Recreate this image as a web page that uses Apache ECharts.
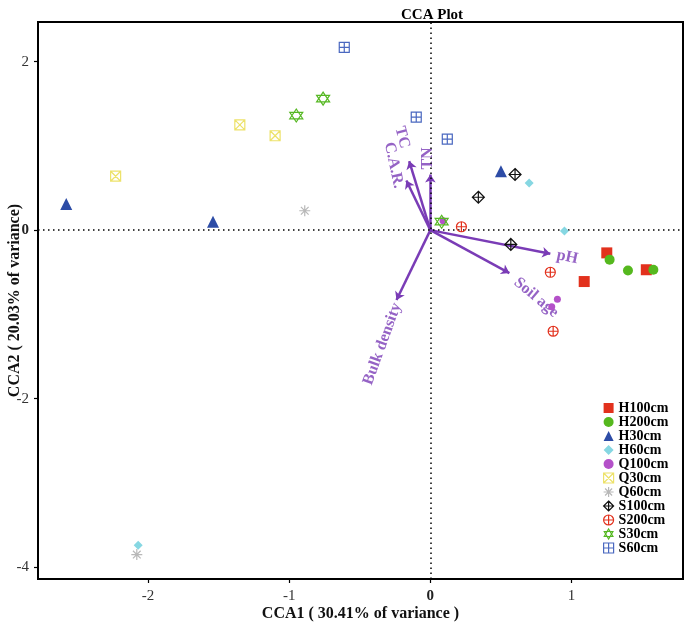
<!DOCTYPE html>
<html>
<head>
<meta charset="utf-8" />
<style>
  html, body { margin: 0; padding: 0; background: #fff; }
  #main { width: 685px; height: 630px; }
</style>
</head>
<body>
<div id="main"></div>
<script src="https://cdn.jsdelivr.net/npm/echarts@6/dist/echarts.min.js"></script>
<script>
// sample scores (CCA1, CCA2)
var H100cm = [[1.25, -0.27], [1.09, -0.61], [1.53, -0.47]];
var H200cm = [[1.27, -0.35], [1.40, -0.48], [1.58, -0.47]];
var H30cm  = [[0.50, 0.70], [-2.58, 0.31], [-1.54, 0.10]];
var H60cm  = [[0.70, 0.56], [0.95, -0.01], [-2.07, -3.74]];
var Q100cm = [[0.90, -0.82], [0.86, -0.91], [0.09, 0.11]];
var Q30cm  = [[-1.35, 1.25], [-1.10, 1.12], [-2.23, 0.64]];
var Q60cm  = [[-0.89, 0.23], [-2.08, -3.85]];
var S100cm = [[0.60, 0.66], [0.34, 0.39], [0.57, -0.17]];
var S200cm = [[0.22, 0.04], [0.85, -0.50], [0.87, -1.20]];
var S30cm  = [[-0.95, 1.36], [-0.76, 1.56], [0.08, 0.10]];
var S60cm  = [[-0.61, 2.17], [-0.10, 1.34], [0.12, 1.08]];

// environmental arrows
var envNames = ['TC', 'C.A.R.', 'TN', 'pH', 'Soil age', 'Bulk density'];
var envX = [-0.15, -0.17, 0.0, 0.85, 0.56, -0.24];
var envY = [0.82, 0.59, 0.66, -0.28, -0.51, -0.83];
var lblX = [-0.20, -0.26, -0.02, 0.97, 0.75, -0.34];
var lblY = [1.10, 0.77, 0.85, -0.32, -0.80, -1.35];
var lblRot = [-75, -78, 90, -12, -40, 70];

var xTicks = [-2, -1, 0, 1];
var yTicks = [-4, -2, 0, 2];

var serif = 'Liberation Serif';
var purple = '#7a3cb6';

var P_SQX = 'path://M0,0L10,0L10,10L0,10Z M0,0L10,10 M10,0L0,10';
var P_SQP = 'path://M0,0L10,0L10,10L0,10Z M5,0L5,10 M0,5L10,5';
var P_DIP = 'path://M5,0L10,5L5,10L0,5Z M5,0L5,10 M0,5L10,5';
var P_CIP = 'path://M10,5A5,5,0,1,1,0,5A5,5,0,1,1,10,5Z M5,0L5,10 M0,5L10,5';
var P_STAR = 'path://M5,0L10,8.66L0,8.66Z M5,11.55L0,2.89L10,2.89Z';
var P_AST = 'path://M5,0L5,10 M0,5L10,5 M1.5,1.5L8.5,8.5 M8.5,1.5L1.5,8.5';

var groups = [
  { name: 'H100cm', data: H100cm, symbol: 'rect', size: 11, fill: '#e2311d' },
  { name: 'H200cm', data: H200cm, symbol: 'circle', size: 10, fill: '#55b81e' },
  { name: 'H30cm',  data: H30cm,  symbol: 'triangle', size: 12, fill: '#2d4ca6' },
  { name: 'H60cm',  data: H60cm,  symbol: 'diamond', size: 9, fill: '#86d7e2' },
  { name: 'Q100cm', data: Q100cm, symbol: 'circle', size: 7, fill: '#b451c9' },
  { name: 'Q30cm',  data: Q30cm,  symbol: P_SQX, size: 10, line: '#ede26a' },
  { name: 'Q60cm',  data: Q60cm,  symbol: P_AST, size: 11, line: '#b8b8b8' },
  { name: 'S100cm', data: S100cm, symbol: P_DIP, size: 12, line: '#111111' },
  { name: 'S200cm', data: S200cm, symbol: P_CIP, size: 10, line: '#e2311d' },
  { name: 'S30cm',  data: S30cm,  symbol: P_STAR, size: 13, line: '#56b823' },
  { name: 'S60cm',  data: S60cm,  symbol: P_SQP, size: 10, line: '#4a68c0' }
];

var series = [];

// dotted zero lines
series.push({
  type: 'scatter', data: [], silent: true,
  markLine: {
    silent: true, symbol: 'none', label: { show: false },
    lineStyle: { color: '#000', type: [1.5, 3.5], width: 1.5 },
    data: [{ xAxis: 0 }, { yAxis: 0 }]
  }
});

// arrows
series.push({
  type: 'lines', coordinateSystem: 'cartesian2d', silent: true,
  symbol: ['none', 'arrow'], symbolSize: 8,
  lineStyle: { color: purple, width: 2.5, opacity: 1 },
  data: envNames.map(function (n, i) {
    return { coords: [[0, 0], [envX[i], envY[i]]] };
  }),
  z: 3
});

// arrow labels
series.push({
  type: 'scatter', silent: true, symbolSize: 0,
  data: envNames.map(function (n, i) {
    return {
      value: [lblX[i], lblY[i]],
      label: {
        show: true, position: 'inside', formatter: n, rotate: lblRot[i],
        align: 'center', verticalAlign: 'middle',
        color: purple, fontFamily: serif, fontWeight: 'bold', fontSize: 16
      }
    };
  }),
  z: 4
});

groups.forEach(function (g) {
  var style = g.fill
    ? { color: g.fill, opacity: 1 }
    : { color: 'rgba(0,0,0,0)', borderColor: g.line, borderWidth: 1.2, opacity: 1 };
  series.push({
    name: g.name, type: 'scatter', data: g.data,
    symbol: g.symbol, symbolSize: g.size, itemStyle: style, z: 5
  });
});

var chart = echarts.init(document.getElementById('main'));
chart.setOption({
  animation: false,
  title: {
    text: 'CCA Plot', left: 396, top: 3,
    textStyle: { fontFamily: serif, fontWeight: 'bold', fontSize: 15, color: '#000' }
  },
  legend: {
    orient: 'vertical', left: 598, top: 396,
    itemWidth: 10, itemHeight: 10, itemGap: 0, itemStyle: { borderWidth: 1.2 },
    data: groups.map(function (g) { return g.name; }),
    textStyle: {
      fontFamily: serif, fontWeight: 'bold', fontSize: 14,
      lineHeight: 12, height: 12, color: '#000'
    }
  },
  grid: {
    left: 38, right: 2, top: 22, bottom: 51,
    show: true, borderColor: '#000', borderWidth: 2,
    outerBoundsMode: 'none', containLabel: false
  },
  xAxis: {
    type: 'value', min: -2.78, max: 1.79,
    name: 'CCA1 ( 30.41% of variance )', nameLocation: 'middle', nameGap: 27,
    nameMoveOverlap: false,
    nameTextStyle: { fontFamily: serif, fontWeight: 'bold', fontSize: 16, color: '#111' },
    splitLine: { show: false },
    axisLine: { show: true, onZero: false, lineStyle: { color: '#000', width: 2 } },
    axisTick: { show: true, length: 4, customValues: xTicks, lineStyle: { color: '#000', width: 1.2 } },
    axisLabel: {
      customValues: xTicks, margin: 10,
      fontFamily: serif, fontSize: 15, color: '#333',
      formatter: function (v) { return v === 0 ? '{b|0}' : String(v); },
      rich: { b: { fontFamily: serif, fontSize: 15, fontWeight: 'bold', color: '#222' } }
    }
  },
  yAxis: {
    type: 'value', min: -4.14, max: 2.47,
    name: 'CCA2 ( 20.03% of variance)', nameLocation: 'middle', nameGap: 15,
    nameMoveOverlap: false,
    nameTextStyle: { fontFamily: serif, fontWeight: 'bold', fontSize: 16, color: '#111' },
    splitLine: { show: false },
    axisLine: { show: true, onZero: false, lineStyle: { color: '#000', width: 2 } },
    axisTick: { show: true, length: 4, customValues: yTicks, lineStyle: { color: '#000', width: 1.2 } },
    axisLabel: {
      customValues: yTicks, margin: 9,
      fontFamily: serif, fontSize: 15, color: '#333',
      formatter: function (v) { return v === 0 ? '{b|0}' : String(v); },
      rich: { b: { fontFamily: serif, fontSize: 15, fontWeight: 'bold', color: '#222' } }
    }
  },
  series: series
});
</script>
</body>
</html>
